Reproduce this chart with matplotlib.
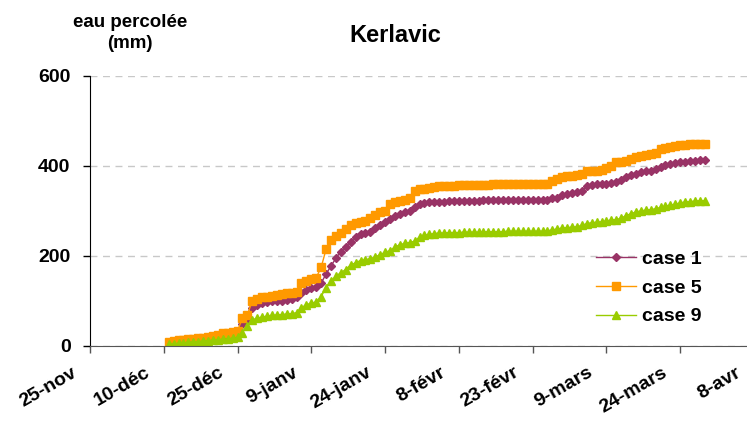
import datetime as dt
import matplotlib
matplotlib.use("Agg")
import matplotlib.pyplot as plt
from matplotlib.transforms import ScaledTranslation

plt.rcParams['font.family'] = ['Liberation Sans', 'DejaVu Sans']
plt.rcParams['font.weight'] = 'bold'

# données journalières du 11 déc. 2003 au 29 mars 2004
start_day = dt.date(2003, 12, 11)

case1 = [4, 6, 8, 9, 10, 11, 12, 13, 15, 17, 19, 21, 22, 24, 26,
         48, 55, 85, 92, 95, 97, 99, 100, 101, 103, 105, 110, 118, 125, 128, 132,
         140, 160, 178, 195, 210, 220, 232, 242, 248, 251, 254, 262, 270, 275,
         282, 290, 294, 297, 300, 310, 315, 318, 319, 320,
         321, 321, 322, 322, 322, 323, 323, 323, 323, 324, 324, 324, 324, 324,
         325, 325, 325, 325, 325, 325, 325, 325, 325, 328,
         330, 335, 338, 340, 342, 345, 355, 358, 359, 360, 361, 362, 365, 370,
         375, 380, 383, 386, 388, 390, 393, 398, 403, 405, 407, 409, 410, 411,
         412, 413, 413]

case5 = [8, 11, 13, 14, 15, 16, 17, 18, 20, 23, 25, 28, 30, 32, 34,
         62, 70, 100, 105, 108, 110, 112, 114, 115, 117, 118, 120, 140, 145, 148, 152,
         175, 215, 235, 245, 252, 260, 268, 273, 275, 277, 285, 292, 297, 300,
         315, 319, 322, 325, 328, 345, 348, 350, 352, 354,
         355, 355, 356, 356, 357, 357, 357, 358, 358, 358, 358, 359, 359, 359,
         359, 359, 360, 360, 360, 360, 360, 360, 360, 366,
         372, 375, 377, 378, 380, 383, 388, 389, 390, 392, 395, 400, 408, 410,
         412, 415, 420, 423, 425, 427, 430, 438, 441, 443, 445, 446, 447, 448,
         448, 449, 449]

case9 = [4, 5, 6, 7, 8, 9, 10, 11, 12, 13, 14, 15, 16, 17, 19,
         30, 45, 58, 62, 64, 66, 68, 69, 70, 71, 72, 74, 85, 92, 95, 98,
         110, 130, 145, 155, 163, 170, 180, 185, 190, 192, 194, 198, 203, 208,
         212, 220, 225, 228, 230, 233, 242, 246, 248, 250,
         251, 251, 252, 252, 252, 253, 253, 253, 253, 254, 254, 254, 254, 254,
         255, 255, 255, 255, 255, 255, 255, 255, 256, 258,
         260, 262, 263, 264, 265, 268, 272, 274, 275, 276, 278, 280, 281, 284,
         290, 294, 298, 300, 302, 303, 305, 308, 311, 313, 315, 318, 320, 321,
         322, 323, 323]

tick_labels = ['25-nov', '10-déc', '25-déc', '9-janv', '24-janv', '8-févr',
               '23-févr', '9-mars', '24-mars', '8-avr']

dates = [start_day + dt.timedelta(days=i) for i in range(len(case1))]
ticks = [dt.date(2003, 11, 25) + dt.timedelta(days=15 * i) for i in range(len(tick_labels))]

fig = plt.figure(figsize=(7.47, 4.21), dpi=100)
ax = fig.add_axes([90 / 747, 75 / 421, 664 / 747, 270 / 421])

ax.plot(dates, case1, color='#993366', marker='D', ms=4.5, lw=1, label='case 1')
ax.plot(dates, case5, color='#FF9900', marker='s', ms=5.5, lw=1, label='case 5')
ax.plot(dates, case9, color='#99CC00', marker='^', ms=6, lw=1, label='case 9')

ax.set_xlim(ticks[0], ticks[-1])
ax.set_ylim(0, 600)
ax.set_yticks([0, 200, 400, 600])
ax.set_xticks(ticks)
ax.set_xticklabels(tick_labels, rotation=30, ha='right', rotation_mode='anchor')
ax.tick_params(axis='both', labelsize=14, direction='out', length=5, width=1)
ax.tick_params(axis='y', pad=9)
ax.tick_params(axis='x', pad=8, colors='#555555', labelcolor='black')
shift = ScaledTranslation(-0.19, 0, fig.dpi_scale_trans)
for lab in ax.get_xticklabels():
    lab.set_transform(lab.get_transform() + shift)
for lab in ax.get_xticklabels() + ax.get_yticklabels():
    lab.set_fontweight('bold')

ax.grid(axis='y', color='#c8c8c8', linestyle=(0, (5, 4)), lw=1)
for s in ['top', 'right']:
    ax.spines[s].set_visible(False)
ax.spines['bottom'].set_color('#555555')

fig.text(395 / 747, 1 - 35 / 421, 'Kerlavic', ha='center', va='center', fontsize=17, fontweight='bold')
fig.text(130 / 747, 1 - 33 / 421, 'eau percolée\n(mm)', ha='center', va='center',
         fontsize=13.5, fontweight='bold', linespacing=1.3)

ax.legend(loc='upper left', bbox_to_anchor=(0.735, 0.42), frameon=False,
          prop={'size': 14, 'weight': 'bold'}, handlelength=2.1, handletextpad=0.3,
          labelspacing=0.58)

fig.savefig('out.png', dpi=100)
